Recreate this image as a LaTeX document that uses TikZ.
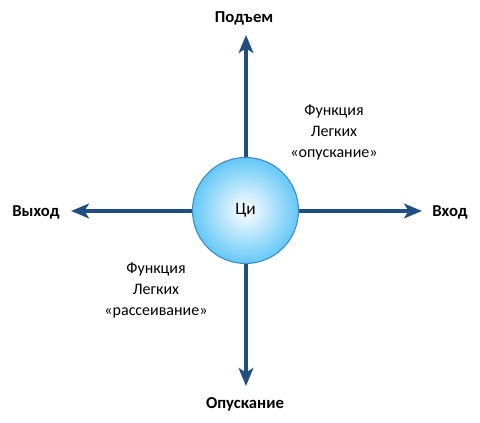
\documentclass[tikz,border=0pt]{standalone}
\usepackage{fontspec}
\setmainfont{Carlito}
\usetikzlibrary{arrows.meta}
\definecolor{arrowblue}{RGB}{31,78,133}
\definecolor{ringblue}{RGB}{60,140,205}
\definecolor{ballblue}{RGB}{100,200,246}
\tikzset{
  axisline/.style={draw=arrowblue,line width=3pt,-{Stealth[length=13.5pt,width=11pt,inset=3.5pt]}},
  ball/.style={circle,minimum size=79.5pt,inner sep=0pt,draw=ringblue,line width=0.8pt,inner color=white,outer color=ballblue},
  endlabel/.style={font=\fontsize{12.5pt}{14pt}\selectfont\bfseries,text=black},
  notelabel/.style={font=\fontsize{12pt}{15.75pt}\selectfont,align=center,text=black}
}
\begin{document}
\begin{tikzpicture}[x=0.75pt,y=-0.75pt]
\useasboundingbox (0,0) rectangle (480,423);
\coordinate (ctr) at (245.5,210.5);
\coordinate (tipU) at (246,35);
\coordinate (tipD) at (246,386);
\coordinate (tipL) at (71,211);
\coordinate (tipR) at (422,211);
\draw[axisline] (246,210.5) -- (tipU);
\draw[axisline] (246,210.5) -- (tipD);
\draw[axisline] (245.5,211) -- (tipL);
\draw[axisline] (245.5,211) -- (tipR);
\node[ball] (c) at (ctr) {\fontsize{13pt}{15pt}\selectfont Ци};
\node[endlabel] (up) at (244,18) {Подъем};
\node[endlabel] (down) at (245,404) {Опускание};
\node[endlabel] (left) at (36,212) {Выход};
\node[endlabel] (right) at (450,212) {Вход};
\node[notelabel] (n1) at (334,132) {Функция\\Легких\\«опускание»};
\node[notelabel] (n2) at (156,290) {Функция\\Легких\\«рассеивание»};
\end{tikzpicture}
\end{document}
